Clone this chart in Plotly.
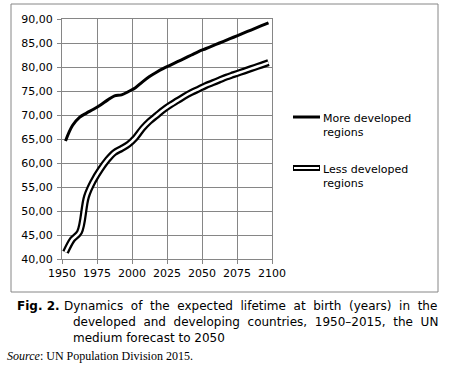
import plotly.graph_objects as go

# ---- data ----
years = [1952.5 + 5 * i for i in range(30)]
more_developed = [64.6, 67.8, 69.5, 70.4, 71.2, 72.1, 73.1, 74.0, 74.2, 74.9,
                  75.7, 76.9, 78.0, 78.9, 79.7, 80.4, 81.1, 81.8, 82.5, 83.2,
                  83.8, 84.4, 85.0, 85.6, 86.2, 86.8, 87.4, 88.0, 88.6, 89.2]
less_developed = [41.4, 44.1, 45.6, 53.0, 56.3, 58.7, 60.7, 62.2, 63.0, 63.9,
                  65.3, 67.2, 68.7, 69.9, 71.1, 72.1, 73.0, 73.9, 74.7, 75.4,
                  76.1, 76.7, 77.3, 77.9, 78.4, 78.9, 79.4, 79.9, 80.4, 80.9]
x_ticks = [1950, 1975, 2000, 2025, 2050, 2075, 2100]
y_ticks = [40, 45, 50, 55, 60, 65, 70, 75, 80, 85, 90]
y_tick_labels = ["40,00", "45,00", "50,00", "55,00", "60,00", "65,00",
                 "70,00", "75,00", "80,00", "85,00", "90,00"]
series_names = ["More developed<br>regions", "Less developed<br>regions"]
caption_label = "<b>Fig. 2.</b>"
caption_lines = [
    "Dynamics of the expected lifetime at birth (years) in the",
    "developed and developing countries, 1950\u20132015, the UN",
    "medium forecast to 2050",
]
source_text = "<i>Source</i>: UN Population Division 2015."

W, H = 454, 366
L, R, T, B = 62, 182, 19, 107
PW, PH = W - L - R, H - T - B
GRID = "#868686"


def px(x):
    return (x - L) / PW


def py(y):
    return (H - B - y) / PH


def justify(s, extra):
    # widen word gaps to imitate the justified caption
    return s.replace(" ", " " + extra)


fig = go.Figure()
fig.add_trace(go.Scatter(x=years, y=more_developed, mode="lines",
                         line=dict(color="black", width=3, shape="spline"),
                         showlegend=False, hoverinfo="skip"))
fig.add_trace(go.Scatter(x=years, y=less_developed, mode="lines",
                         line=dict(color="black", width=7, shape="spline"),
                         showlegend=False, hoverinfo="skip"))
fig.add_trace(go.Scatter(x=years, y=less_developed, mode="lines",
                         line=dict(color="white", width=2.5, shape="spline"),
                         showlegend=False, hoverinfo="skip"))

shapes = []
# outer frame
shapes.append(dict(type="rect", xref="paper", yref="paper",
                   x0=px(11), x1=px(438), y0=py(292), y1=py(4),
                   line=dict(color=GRID, width=1), layer="below"))
# legend swatches
shapes.append(dict(type="line", xref="paper", yref="paper",
                   x0=px(293), x1=px(320), y0=py(117), y1=py(117),
                   line=dict(color="black", width=3)))
shapes.append(dict(type="line", xref="paper", yref="paper",
                   x0=px(293), x1=px(320), y0=py(168), y1=py(168),
                   line=dict(color="black", width=6)))
shapes.append(dict(type="line", xref="paper", yref="paper",
                   x0=px(294), x1=px(319), y0=py(168), y1=py(168),
                   line=dict(color="white", width=2)))

annotations = []
for name, yy in zip(series_names, [125, 176]):
    annotations.append(dict(xref="paper", yref="paper", x=px(321), y=py(yy),
                            text=name, showarrow=False, xanchor="left",
                            yanchor="middle", align="left",
                            font=dict(family="DejaVu Sans", size=11, color="black")))

cap_font = dict(family="DejaVu Sans", size=12, color="black")
annotations.append(dict(xref="paper", yref="paper", x=px(15), y=py(306),
                        text=caption_label, showarrow=False, xanchor="left",
                        yanchor="middle", font=cap_font))
cap_texts = [justify(caption_lines[0], "\u00a0"),
             justify(caption_lines[1], "\u00a0"),
             caption_lines[2]]
for txt, xx, yy in zip(cap_texts, [62, 71, 71], [306, 322, 338]):
    annotations.append(dict(xref="paper", yref="paper", x=px(xx), y=py(yy),
                            text=txt, showarrow=False, xanchor="left",
                            yanchor="middle", font=cap_font))
annotations.append(dict(xref="paper", yref="paper", x=px(5), y=py(356),
                        text=source_text, showarrow=False, xanchor="left",
                        yanchor="middle",
                        font=dict(family="Liberation Serif", size=12, color="black")))

fig.update_layout(
    width=W, height=H,
    margin=dict(l=L, r=R, t=T, b=B, pad=0),
    paper_bgcolor="white", plot_bgcolor="white",
    shapes=shapes, annotations=annotations,
    showlegend=False,
    xaxis=dict(range=[1950, 2100], tickvals=x_ticks, ticktext=[str(v) for v in x_ticks],
               showgrid=True, gridcolor=GRID, gridwidth=1,
               showline=True, linecolor=GRID, linewidth=1, mirror=True,
               ticks="outside", ticklen=4, tickcolor=GRID,
               tickfont=dict(family="DejaVu Sans", size=11, color="black"),
               zeroline=False, fixedrange=True),
    yaxis=dict(range=[40, 90], tickvals=y_ticks, ticktext=y_tick_labels,
               showgrid=True, gridcolor=GRID, gridwidth=1,
               showline=True, linecolor=GRID, linewidth=1, mirror=True,
               ticks="outside", ticklen=4, tickcolor=GRID, ticklabelstandoff=2,
               tickfont=dict(family="DejaVu Sans", size=11, color="black"),
               zeroline=False, fixedrange=True),
)

fig.write_html("out.html", config={"displayModeBar": False},
               post_script="document.body.style.margin='0px';"
                           "document.body.style.overflow='hidden';")
